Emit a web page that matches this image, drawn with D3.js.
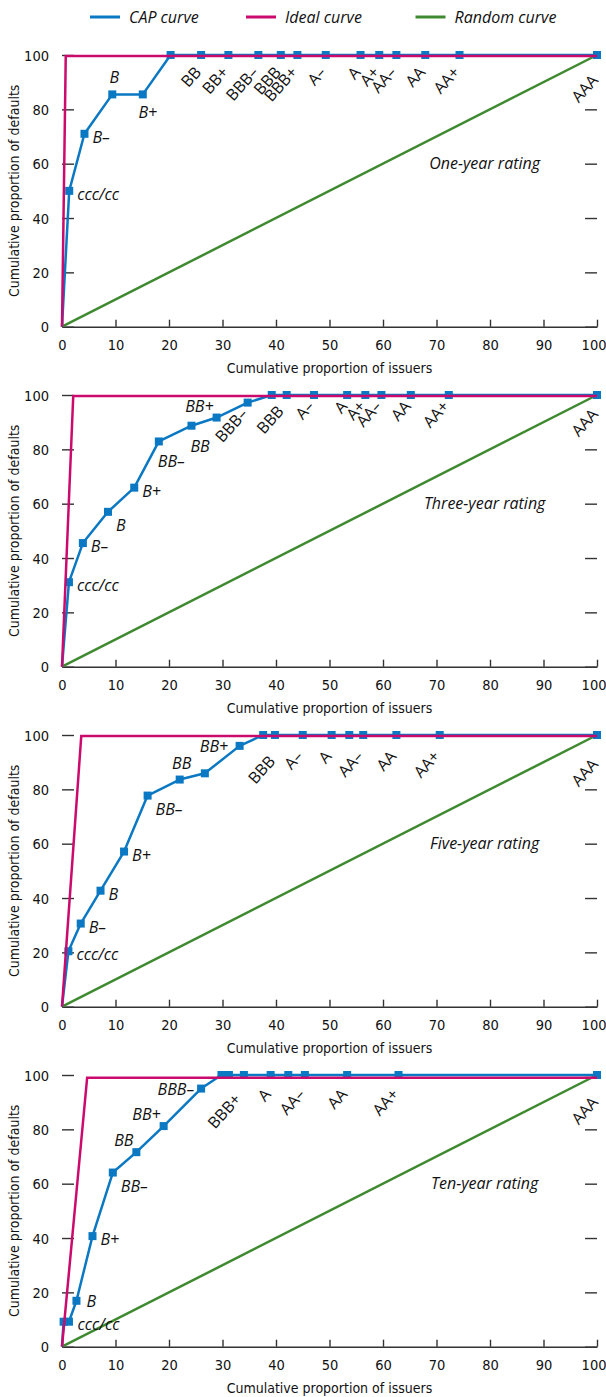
<!DOCTYPE html>
<html>
<head>
<meta charset="utf-8">
<script src="https://cdnjs.cloudflare.com/ajax/libs/d3/7.8.5/d3.min.js"></script>
<style>
  body { margin: 0; background: #fff; }
  .axis text { font-family: "Liberation Sans Narrow", "DejaVu Sans Condensed", sans-serif; font-size: 14.5px; fill: #111; }
  .axis line, .axis path { stroke: #333; stroke-width: 1.4; }
  .title-ax { font-family: "Liberation Sans Narrow", "DejaVu Sans Condensed", sans-serif; font-size: 14px; fill: #111; }
  .note { font-family: "Open Sans", sans-serif; font-size: 16px; fill: #111; }
</style>
</head>
<body>
<svg id="chart" width="606" height="1397"></svg>
<script>
// rating grades, same order for all four horizons
const ratings = ['ccc/cc','B–','B','B+','BB–','BB','BB+','BBB–','BBB','BBB+','A–','A','A+','AA–','AA','AA+','AAA'];

// cumulative proportion of issuers (x) and defaults (y)
const issuers1  = [1.35, 4.2, 9.4, 15.1, 20.3, 26.0, 31.1, 36.7, 40.9, 44.0, 49.3, 55.8, 59.3, 62.5, 67.9, 74.3, 100];
const defaults1 = [50, 71, 85.5, 85.5, 100, 100, 100, 100, 100, 100, 100, 100, 100, 100, 100, 100, 100];
const issuers2  = [1.3, 3.9, 8.6, 13.5, 18.1, 24.2, 28.9, 34.7, 39.2, 42.0, 47.1, 53.3, 56.7, 59.7, 65.2, 72.3, 100];
const defaults2 = [31.1, 45.5, 57.0, 65.9, 82.9, 88.7, 91.7, 97.2, 100, 100, 100, 100, 100, 100, 100, 100, 100];
const issuers3  = [1.2, 3.5, 7.2, 11.6, 16.0, 22.0, 26.7, 33.2, 37.6, 39.8, 45.0, 50.4, 53.7, 56.3, 62.5, 70.6, 100];
const defaults3 = [20.4, 30.6, 42.7, 57.1, 77.7, 83.6, 85.9, 96.0, 100, 100, 100, 100, 100, 100, 100, 100, 100];
const issuers4  = [0.3, 1.3, 2.7, 5.7, 9.5, 13.9, 19.0, 26.0, 29.8, 31.2, 34.0, 39.0, 42.3, 45.4, 53.3, 62.9, 100];
const defaults4 = [9.2, 9.2, 16.9, 40.7, 64.1, 71.6, 81.2, 95.0, 100, 100, 100, 100, 100, 100, 100, 100, 100];

// ideal curve corner (x, y) per panel
const idealX = [0.7, 2.1, 3.6, 4.7];
const idealY = [99.6, 99.6, 99.6, 99];

const titles = ['One-year rating', 'Three-year rating', 'Five-year rating', 'Ten-year rating'];
const legendNames = ['CAP curve', 'Ideal curve', 'Random curve'];
const xTicks = [0, 10, 20, 30, 40, 50, 60, 70, 80, 90, 100];
const yTicks = [0, 20, 40, 60, 80, 100];

// where each grade label sits next to its marker ('' = no label)
const place1 = ['r','r','a','b','','rot','rot','rot','rot','rot','rot','rot','rot','rot','rot','rot','rotA'];
const place2 = ['r','r','br','r','bs','bs','al','rot','rot+','','rot','rot','rot','rot','rot','rot','rotA'];
const place3 = ['r','r','r','r','br','a','as','','rot+','','rot','rot','','rot','rot','rot','rotA'];
const place4 = ['rr','','ru','r','br','al','al','l','','rot+','','rot','','rot','rot','rot','rotA'];
const rotDrop = [10, 4, 14, 12];

const placeRules = {
	r:  {anchor: 'start', dx: 8, dy: 9},
	ru: {anchor: 'start', dx: 10, dy: 6},
	rr: {anchor: 'start', dx: 14, dy: 8},
	br: {anchor: 'start', dx: 8, dy: 19},
	bs: {anchor: 'start', dx: -1, dy: 26},
	b:  {anchor: 'middle', dx: 5, dy: 24},
	a:  {anchor: 'middle', dx: 2, dy: -11},
	al: {anchor: 'end', dx: -3, dy: -6},
	as: {anchor: 'start', dx: -5, dy: -21},
	l:  {anchor: 'end', dx: -7, dy: 6},
	rot:  {rot: true, dx: 1, dy: 8},
	'rot+': {rot: true, dx: 13, dy: 13},
	rotA: {rot: true, dx: 2, dy: 16}
};

const colBlue = '#0a78c2', colPink = '#cc0a6e', colGreen = '#3f8a30';

const panels = [
	{iss: issuers1, def: defaults1, place: place1},
	{iss: issuers2, def: defaults2, place: place2},
	{iss: issuers3, def: defaults3, place: place3},
	{iss: issuers4, def: defaults4, place: place4}
];

const svg = d3.select('#chart');

const x = d3.scaleLinear().domain([0, 100]).range([62, 597]);
const y = d3.scaleLinear().domain([0, 100]).range([326.7, 55]);
const line = d3.line().x(function(d) { return x(d[0]); }).y(function(d) { return y(d[1]); });

// legend
const legX = [90, 246, 415.5];
const legCol = [colBlue, colPink, colGreen];
legendNames.forEach(function(name, i) {
	svg.append('line')
		.attr('x1', legX[i]).attr('x2', legX[i] + 30)
		.attr('y1', 17).attr('y2', 17)
		.attr('stroke', legCol[i]).attr('stroke-width', 3);
	svg.append('text').attr('class', 'note')
		.attr('x', legX[i] + 39).attr('y', 23)
		.style('font-style', 'italic')
		.text(name);
});

panels.forEach(function(p, i) {
	const g = svg.append('g').attr('transform', 'translate(0,' + (340 * i) + ')');

	// axes
	const bottom = g.append('g').attr('class', 'axis')
		.attr('transform', 'translate(0,' + y(0) + ')')
		.call(d3.axisBottom(x).tickValues(xTicks).tickSizeInner(-7).tickSizeOuter(0).tickPadding(13));
	// last label runs to the page edge
	bottom.selectAll('.tick text').filter(function(d) { return d == 100; })
		.attr('text-anchor', 'end').attr('x', 9);

	const left = g.append('g').attr('class', 'axis')
		.attr('transform', 'translate(' + x(0) + ',0)')
		.call(d3.axisLeft(y).tickValues(yTicks).tickSizeInner(-12).tickSizeOuter(0).tickPadding(13));
	left.select('.domain').remove();
	left.selectAll('text').attr('dy', '0.36em');

	const right = g.append('g').attr('class', 'axis')
		.attr('transform', 'translate(' + x(100) + ',0)')
		.call(d3.axisRight(y).tickValues(yTicks).tickSizeInner(-12).tickSizeOuter(0).tickFormat(''));
	right.select('.domain').remove();

	// axis titles
	g.append('text').attr('class', 'title-ax')
		.attr('x', (x(0) + x(100)) / 2).attr('y', y(0) + 46)
		.attr('text-anchor', 'middle')
		.text('Cumulative proportion of issuers');
	g.append('text').attr('class', 'title-ax')
		.attr('transform', 'translate(19,' + (y(0) + y(100)) / 2 + ') rotate(-90)')
		.attr('text-anchor', 'middle')
		.text('Cumulative proportion of defaults');

	// random curve
	g.append('path')
		.attr('d', line([[0, 0], [100, 100]]))
		.attr('fill', 'none').attr('stroke', colGreen).attr('stroke-width', 2.5);

	// CAP curve
	const pts = p.iss.map(function(v, k) { return [v, p.def[k]]; });
	g.append('path')
		.attr('d', line([[0, 0]].concat(pts)))
		.attr('fill', 'none').attr('stroke', colBlue).attr('stroke-width', 2.5)
		.attr('stroke-linejoin', 'round');

	g.selectAll('rect.mk').data(pts).enter().append('rect')
		.attr('class', 'mk')
		.attr('x', function(d) { return x(d[0]) - 4; })
		.attr('y', function(d) { return y(d[1]) - 4; })
		.attr('width', 8).attr('height', 8)
		.attr('fill', colBlue);

	// ideal curve
	g.append('path')
		.attr('d', line([[0, 0], [idealX[i], idealY[i]], [100, idealY[i]]]))
		.attr('fill', 'none').attr('stroke', colPink).attr('stroke-width', 2.5)
		.attr('stroke-linejoin', 'miter');

	// grade labels
	pts.forEach(function(d, k) {
		const rule = placeRules[p.place[k]];
		if (!rule) return;
		const mx = x(d[0]), my = y(d[1]);
		if (rule.rot) {
			g.append('text').attr('class', 'note')
				.attr('text-anchor', 'end')
				.attr('transform', 'translate(' + (mx + rule.dx) + ',' + (my + rotDrop[i] + rule.dy) + ') rotate(-48)')
				.text(ratings[k]);
		} else {
			g.append('text').attr('class', 'note')
				.attr('text-anchor', rule.anchor)
				.style('font-style', 'italic')
				.attr('x', mx + rule.dx).attr('y', my + rule.dy)
				.text(ratings[k]);
		}
	});

	// panel title
	g.append('text').attr('class', 'note')
		.attr('x', x(79)).attr('y', y(58))
		.attr('text-anchor', 'middle')
		.style('font-style', 'italic')
		.text(titles[i]);
});
</script>
</body>
</html>
